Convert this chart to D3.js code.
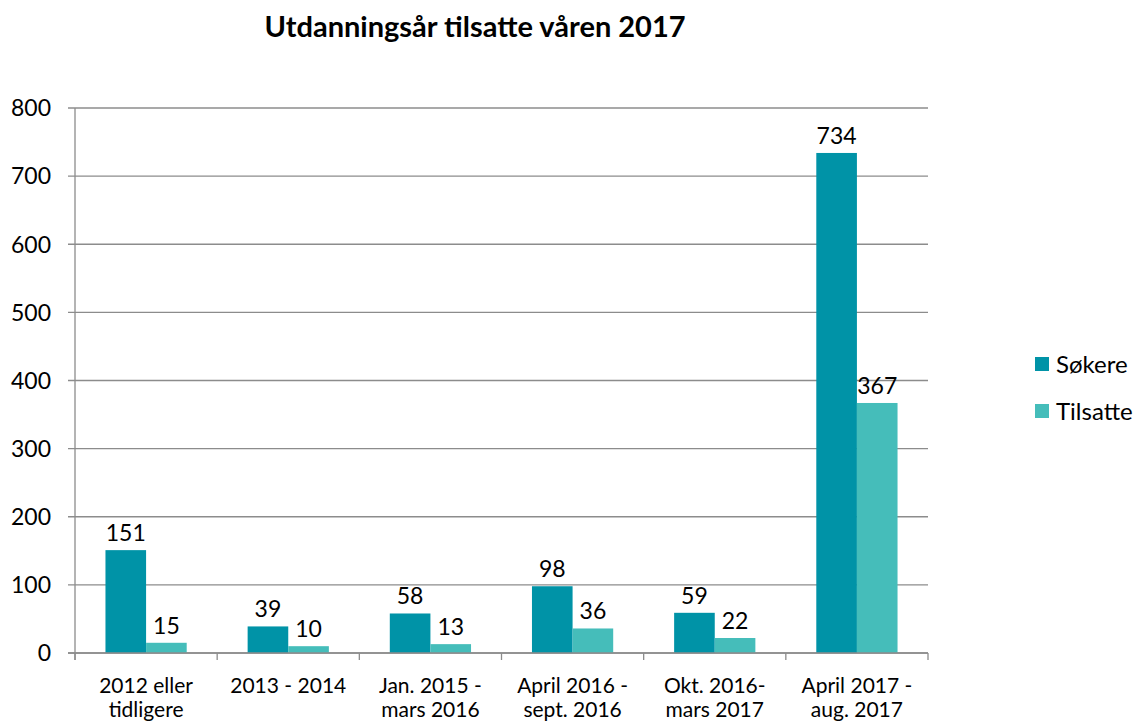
<!DOCTYPE html>
<html><head><meta charset="utf-8">
<script src="https://cdn.jsdelivr.net/npm/d3@7"></script>
<style>body{margin:0;background:#fff}svg{display:block}text{font-family:Lato,"Open Sans",sans-serif}</style>
</head><body>
<svg id="c" width="1139" height="722"></svg>
<script>
const categories = [["2012 eller","tidligere"],["2013 - 2014"],["Jan. 2015 -","mars 2016"],["April 2016 -","sept. 2016"],["Okt. 2016-","mars 2017"],["April 2017 -","aug. 2017"]];
const sokere = [151, 39, 58, 98, 59, 734];
const tilsatte = [15, 10, 13, 36, 22, 367];
const seriesNames = ["Søkere", "Tilsatte"];
const yTicks = [0,100,200,300,400,500,600,700,800];
const colors = ["#0093A7", "#45BDBA"];

const svg = d3.select("#c");
const L = 75, R = 928, T = 108, B = 653;
const x = d3.scaleBand().domain(d3.range(categories.length)).range([L, R]).paddingInner(0).paddingOuter(0);
const x1 = d3.scaleBand().domain([0,1]).range([0, x.bandwidth()]).paddingInner(0).paddingOuter(0.75);
const y = d3.scaleLinear().domain([0, 800]).range([B, T]);

svg.append("text").attr("x", 475).attr("y", 37).attr("text-anchor", "middle")
  .attr("font-size", 29).attr("font-weight", "bold").text("Utdanningsår tilsatte våren 2017");

// gridlines
svg.append("g").selectAll("line").data(yTicks).join("line")
  .attr("x1", L - 7).attr("x2", R).attr("y1", d => y(d)).attr("y2", d => y(d))
  .attr("stroke", "#8c8c8c").attr("stroke-width", 1.3);
svg.append("g").selectAll("text").data(yTicks).join("text")
  .attr("x", 51).attr("y", d => y(d)).attr("dy", "0.36em").attr("text-anchor", "end")
  .attr("font-size", 23).text(d => d);

// axis
svg.append("line").attr("x1", L).attr("x2", L).attr("y1", T).attr("y2", B + 7).attr("stroke", "#8c8c8c").attr("stroke-width", 1.3);
svg.append("g").selectAll("line").data(d3.range(categories.length + 1)).join("line")
  .attr("x1", i => L + i * x.bandwidth()).attr("x2", i => L + i * x.bandwidth())
  .attr("y1", B).attr("y2", B + 7).attr("stroke", "#8c8c8c").attr("stroke-width", 1.3);

const series = [sokere, tilsatte];
series.forEach((vals, s) => {
  const g = svg.append("g");
  g.selectAll("rect").data(vals).join("rect")
    .attr("x", (d, i) => x(i) + x1(s)).attr("width", x1.bandwidth())
    .attr("y", d => y(d)).attr("height", d => y(0) - y(d)).attr("fill", colors[s]);
  g.selectAll("text").data(vals).join("text")
    .attr("x", (d, i) => x(i) + x1(s) + x1.bandwidth() / 2)
    .attr("y", d => y(d) - 9).attr("text-anchor", "middle").attr("font-size", 23).text(d => d);
});
svg.append("line").attr("x1", L - 7).attr("x2", R).attr("y1", B).attr("y2", B).attr("stroke", "#8c8c8c").attr("stroke-width", 1.3);

// x labels
const xl = svg.append("g").selectAll("text").data(categories).join("text")
  .attr("x", (d, i) => x(i) + x.bandwidth() / 2).attr("y", 693).attr("text-anchor", "middle").attr("font-size", 21);
xl.selectAll("tspan").data(d => d).join("tspan")
  .attr("x", function(){ return this.parentNode.getAttribute("x"); })
  .attr("dy", (d, i) => i === 0 ? 0 : 24).text(d => d);

// legend
const lg = svg.append("g").selectAll("g").data(seriesNames).join("g")
  .attr("transform", (d, i) => `translate(1035, ${364 + i * 47})`);
lg.append("rect").attr("x", 0).attr("y", -7).attr("width", 14).attr("height", 14).attr("fill", (d, i) => colors[i]);
lg.append("text").attr("x", 21).attr("y", 0).attr("dy", "0.36em").attr("font-size", 24).text(d => d);
</script>
</body></html>
